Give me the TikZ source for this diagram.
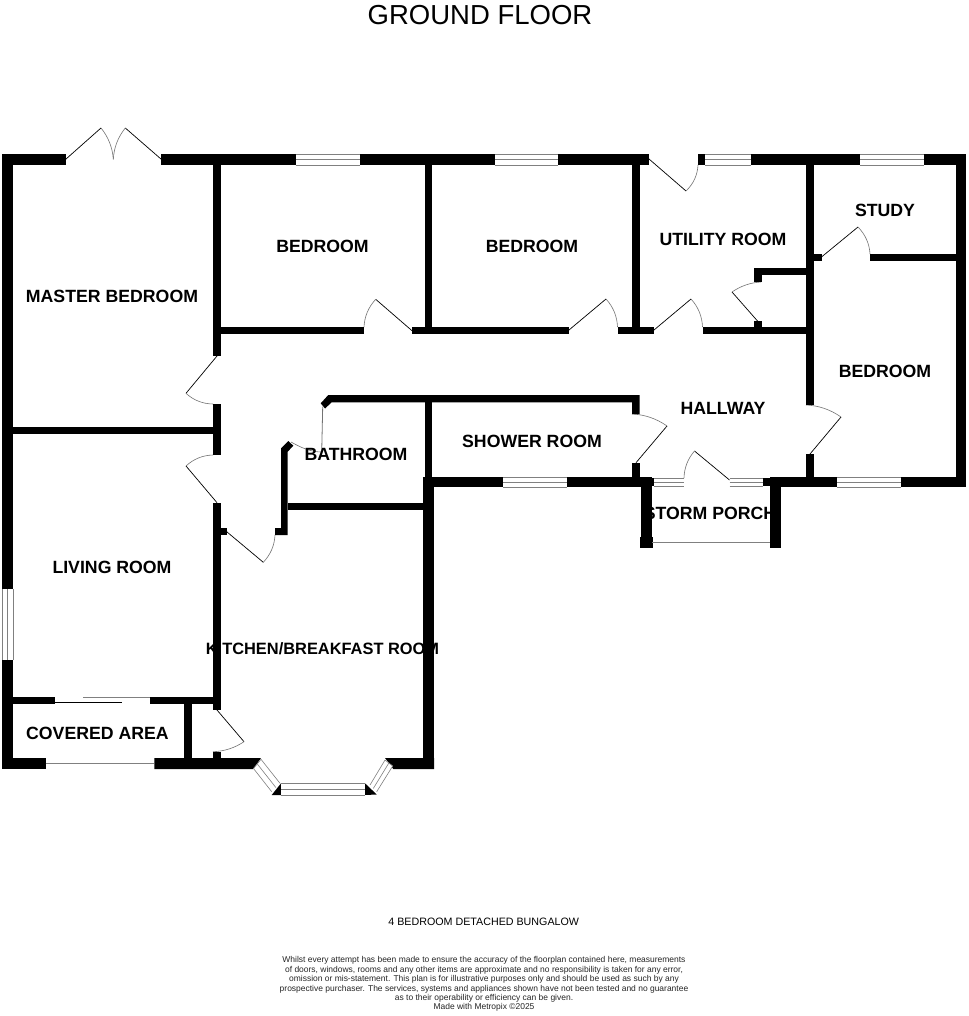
\documentclass[tikz,border=0pt]{standalone}
\usepackage{fontspec}
\setmainfont{Liberation Sans}
\usetikzlibrary{calc}
\tikzset{
  wallfill/.style={fill=black},
  leafline/.style={draw=black,line width=0.7pt},
  swingline/.style={draw=black!55,line width=0.6pt},
  glassline/.style={draw=black!50,line width=0.6pt},
  roomlabel/.style={font=\bfseries\fontsize{17.7}{20}\selectfont,inner sep=0pt,text height=12.7pt,text depth=0pt,anchor=center},
}
\newcommand{\wallrect}[4]{\fill[wallfill] (#1,#2) rectangle (#3,#4);}
\newcommand{\doorleaf}[6]{%
  \draw[leafline] (#1,#2) -- (#3,#4);
  \pgfmathsetmacro{\qcx}{#1+0.56*(#3+#5-2*#1)}%
  \pgfmathsetmacro{\qcy}{#2+0.56*(#4+#6-2*#2)}%
  \pgfmathsetmacro{\qax}{#3+0.667*(\qcx-#3)}%
  \pgfmathsetmacro{\qay}{#4+0.667*(\qcy-#4)}%
  \pgfmathsetmacro{\qbx}{#5+0.667*(\qcx-#5)}%
  \pgfmathsetmacro{\qby}{#6+0.667*(\qcy-#6)}%
  \draw[swingline] (#3,#4) .. controls (\qax,\qay) and (\qbx,\qby) .. (#5,#6);
}
% x1 x2 y1 y2
\newcommand{\winh}[4]{%
  \fill[white] (#1,#3) rectangle (#2,#4);
  \draw[glassline] (#1,#3) -- (#2,#3);
  \draw[glassline] (#1,{(#3+#4)/2}) -- (#2,{(#3+#4)/2});
  \draw[glassline] (#1,#4) -- (#2,#4);
}
% x1 y1 x2 y2
\newcommand{\winv}[4]{%
  \fill[white] (#1,#2) rectangle (#3,#4);
  \draw[glassline] (#1,#2) -- (#1,#4);
  \draw[glassline] ({(#1+#3)/2},#2) -- ({(#1+#3)/2},#4);
  \draw[glassline] (#3,#2) -- (#3,#4);
}
\begin{document}
\begin{tikzpicture}[x=1pt,y=-1pt]
\useasboundingbox (0,0) rectangle (968,1016);
\fill[white] (0,0) rectangle (968,1016);

% door leaves and swings
\doorleaf{65.7}{159.3}{101}{128}{113.3}{159.3}
\doorleaf{161.3}{159.3}{125.3}{128}{113.3}{159.3}
\doorleaf{412}{330.7}{375.7}{299.3}{364}{327}
\doorleaf{217}{356}{186}{393.3}{213}{404}
\doorleaf{217}{502.7}{186}{466}{213}{455}
\doorleaf{226.7}{531.7}{263.3}{562.3}{275}{535}
\doorleaf{217}{710}{244}{741.7}{213}{751.7}
\doorleaf{569}{330}{606}{299}{617.5}{327}
\doorleaf{654}{330}{691}{299}{702.5}{327}
\doorleaf{757.5}{321}{732}{292}{761}{282}
\doorleaf{649}{159}{686}{191}{698}{165}
\doorleaf{821.5}{257}{858}{227}{870}{254}
\doorleaf{636}{462.7}{667}{426}{632}{414}
\doorleaf{729.5}{480}{694.5}{451}{684}{478}
\doorleaf{810}{454}{841}{417}{806}{405}
\draw[swingline,line width=0.8pt] (322.7,406.7) -- (321.7,452);
\draw[swingline] (321.7,452) .. controls (310,452) and (300,447) .. (291,442);

% room labels (walls are drawn over them)
\node[roomlabel] (master) at (112,296) {MASTER BEDROOM};
\node[roomlabel] (bedone) at (322.5,246) {BEDROOM};
\node[roomlabel] (bedtwo) at (532,246) {BEDROOM};
\node[roomlabel] (utility) at (723,239) {UTILITY ROOM};
\node[roomlabel] (study) at (885,210) {STUDY};
\node[roomlabel] (bedthree) at (885,371) {BEDROOM};
\node[roomlabel] (hallway) at (723,407.7) {HALLWAY};
\node[roomlabel] (shower) at (532,441) {SHOWER ROOM};
\node[roomlabel] (bathroom) at (356,454) {BATHROOM};
\node[roomlabel] (porch) at (710,513.5) {STORM PORCH};
\node[roomlabel] (living) at (112,566.7) {LIVING ROOM};
\node[roomlabel,font=\bfseries\fontsize{16.4}{20}\selectfont,text height=11.8pt] (kitchen) at (322.5,649) {KITCHEN/BREAKFAST ROOM};
\node[roomlabel] (covered) at (97.5,732.7) {COVERED AREA};

% top wall
\wallrect{2}{154}{65.7}{165}
\wallrect{161.3}{154}{295.7}{165}
\wallrect{359.5}{154}{494.5}{165}
\wallrect{558}{154}{649}{165}
\wallrect{698}{154}{705}{165}
\wallrect{751}{154}{860}{165}
\wallrect{924}{154}{966}{165}
% outer left and right walls
\wallrect{2}{154}{13}{589}
\wallrect{2}{660}{13}{769}
\wallrect{956}{154}{966}{487.3}
% master / living room walls
\wallrect{213}{154}{221}{356}
\wallrect{213}{404}{221}{455}
\wallrect{213}{502.7}{221}{710}
\wallrect{13}{427}{213}{434}
\wallrect{221}{527.7}{226.7}{535}
% bedroom front walls
\wallrect{221}{327}{364}{334}
\wallrect{412}{327}{569}{334}
\wallrect{617.5}{327}{654}{334}
\wallrect{702.5}{327}{806}{334}
\wallrect{424.5}{154}{431.5}{334}
\wallrect{632}{154}{639.5}{334}
\wallrect{806}{154}{814}{405}
\wallrect{806}{454}{814}{487.3}
% utility cupboard
\wallrect{754}{267.7}{806}{275}
\wallrect{754}{267.7}{761.5}{282}
\wallrect{754}{321}{761.5}{327}
% study
\wallrect{870}{254}{956}{261}
\wallrect{814}{254}{821.5}{261}
% shower room and bathroom
\fill[wallfill] (328.3,395) -- (639.5,395) -- (639.5,414) -- (632,414) -- (632,402.3) -- (331.7,402.3) -- (325,408.5) -- (320.7,403.3) -- cycle;
\wallrect{424.5}{395}{431.5}{477}
\wallrect{632}{462.7}{639.5}{477}
\fill[wallfill] (288.3,441) -- (293.3,445.7) -- (287.7,451.7) -- (287.7,535) -- (275,535) -- (275,528) -- (281,528) -- (281,448.3) -- cycle;
\wallrect{287.7}{502.7}{423}{510.3}
% bottom wall of the right wing
\wallrect{423}{476.7}{503}{487.3}
\wallrect{567}{476.7}{651.5}{487.3}
\wallrect{647}{478}{654}{486}
\wallrect{762.6}{478}{771}{486}
\wallrect{770.3}{476.7}{837}{487.3}
\wallrect{901}{476.7}{966}{487.3}
% storm porch
\wallrect{640.5}{487}{651.5}{548}
\wallrect{640}{537}{652.5}{548}
\wallrect{770.3}{487}{780.5}{548}
\wallrect{769.6}{537}{781}{548}
% kitchen
\wallrect{423}{476.7}{434}{769}
\fill[wallfill] (385,758) -- (434,758) -- (434,769) -- (393.3,769) -- cycle;
% living room lower wall and covered area
\wallrect{13}{696.7}{54.7}{703.7}
\wallrect{150}{696.7}{213}{703.7}
\wallrect{184.3}{703.7}{191.7}{758}
\wallrect{2}{758}{45.7}{769}
\fill[wallfill] (154.3,758) -- (261,758) -- (253.3,769) -- (154.3,769) -- cycle;
\wallrect{213}{751.7}{221}{758}

% windows
\winh{295.7}{359.5}{154.5}{165}
\winh{494.5}{558}{154.5}{165}
\winh{705}{751}{154.5}{165}
\winh{860}{924}{154.5}{165}
\winh{503}{567}{477}{487.3}
\winh{837}{901}{477}{487.3}
\winh{654}{684}{478.3}{486.5}
\winh{729.5}{762.6}{478.3}{486.5}
\winv{2.5}{589}{13}{660}
% bay window
\fill[wallfill] (281,783.3) -- (281,795) -- (271.7,795) -- cycle;
\fill[wallfill] (365,783.3) -- (376.7,794.5) -- (365,795) -- cycle;
\winh{281}{365}{783.5}{795}
\coordinate (la) at (261,759.3);
\coordinate (lb) at (280,783.3);
\coordinate (lc) at (271.7,791.7);
\coordinate (ld) at (253.5,768.5);
\fill[white] (la) -- (lb) -- (lc) -- (ld) -- cycle;
\draw[glassline] (la) -- (lb) (ld) -- (lc) ($(la)!0.5!(ld)$) -- ($(lb)!0.5!(lc)$) (la) -- (ld);
\coordinate (ra) at (385,760);
\coordinate (rb) at (370,785);
\coordinate (rc) at (376.7,791.7);
\coordinate (rd) at (392.7,766);
\fill[white] (ra) -- (rb) -- (rc) -- (rd) -- cycle;
\draw[glassline] (ra) -- (rb) (rd) -- (rc) ($(ra)!0.5!(rd)$) -- ($(rb)!0.5!(rc)$) (ra) -- (rd);

% glazed screens and sliding door
\draw[glassline] (45.7,763.3) -- (154.3,763.3);
\draw[glassline] (652,542.3) -- (770,542.3);
\draw[leafline,line width=0.6pt] (54.7,702.3) -- (121.7,702.3);
\draw[glassline,line width=0.8pt] (83.3,697) -- (150,697);

% titles
\node[font=\fontsize{27.5}{30}\selectfont,inner sep=0pt,text height=20pt,text depth=0pt] (title) at (480,14.5) {GROUND FLOOR};
\node[font=\fontsize{10.7}{12}\selectfont,inner sep=0pt,text height=7.5pt,text depth=0pt] (subtitle) at (483.7,921.7) {4 BEDROOM DETACHED BUNGALOW};
\node[font=\fontsize{8.47}{9.4}\selectfont,text=black!85,inner sep=0pt,align=center,anchor=north] (disclaimer) at (484,956.5) {Whilst every attempt has been made to ensure the accuracy of the floorplan contained here, measurements\\
of doors, windows, rooms and any other items are approximate and no responsibility is taken for any error,\\
omission or mis-statement. This plan is for illustrative purposes only and should be used as such by any\\
prospective purchaser. The services, systems and appliances shown have not been tested and no guarantee\\
as to their operability or efficiency can be given.\\
Made with Metropix ©2025};
\end{tikzpicture}
\end{document}
